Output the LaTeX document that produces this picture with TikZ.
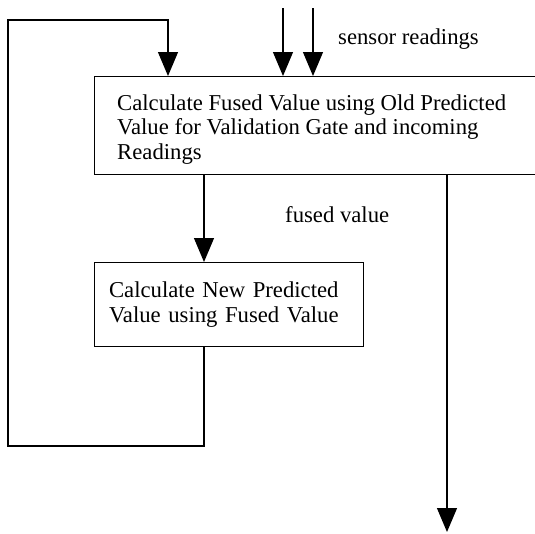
\documentclass[tikz,border=0pt]{standalone}
\usepackage{fontspec}
\setmainfont{Liberation Serif}
\usetikzlibrary{arrows.meta}
\tikzset{
  procbox/.style={draw, line width=1.2pt, rectangle, inner sep=0pt},
  flow/.style={line width=1.2pt, -{Triangle[width=20pt,length=24pt]}},
  lbl/.style={inner sep=0pt, font=\fontsize{22.7}{24.5}\selectfont},
}

\begin{document}
\begin{tikzpicture}[x=1pt,y=-1pt]
  \useasboundingbox (0,0) rectangle (535,533);
  % process boxes
  \node[procbox, anchor=north west, minimum width=470pt, minimum height=98pt] (fusebox) at (94,76) {};
  \node[lbl, anchor=north west, align=left] (fusetext) at (117,94.5)
    {Calculate Fused Value using Old Predicted\\ Value for Validation Gate and incoming\\ Readings};
  \node[procbox, lbl, anchor=north west, minimum width=269pt, minimum height=84pt,
    text width=240pt, inner xsep=14.5pt, align=left] (predict) at (94,262)
    {Calculate New Predicted\\ Value using Fused Value};
  % labels
  \node[lbl, anchor=base west] (sensorlbl) at (338,44) {sensor readings};
  \node[lbl, anchor=base west] (fusedlbl) at (285,222) {fused value};
  % free ends of the connectors
  \coordinate (in1) at (283,8);
  \coordinate (in2) at (313,8);
  \coordinate (tap) at (204,0);
  \coordinate (out) at (447,532);
  \coordinate (loopbl) at (8,446);
  \coordinate (looptop) at (168,20);
  % connectors
  \foreach \p in {in1,in2}
    \draw[flow] (\p) -- (\p |- fusebox.north);
  \draw[flow] (tap |- fusebox.south) -- (tap |- predict.north);
  \draw[flow] (out |- fusebox.south) -- (out);
  \draw[flow] (tap |- predict.south) |- (loopbl) |- (looptop) -- (looptop |- fusebox.north);
\end{tikzpicture}
\end{document}
